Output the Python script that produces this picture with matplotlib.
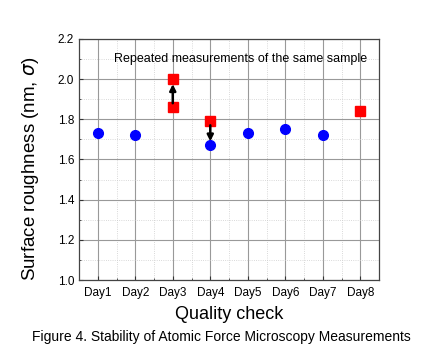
import matplotlib
matplotlib.use('Agg')
import matplotlib.pyplot as plt
from matplotlib.ticker import MultipleLocator

plt.rcParams['font.family'] = ['Liberation Sans', 'DejaVu Sans']

days = ['Day1', 'Day2', 'Day3', 'Day4', 'Day5', 'Day6', 'Day7', 'Day8']
blue_x = [1, 2, 4, 5, 6, 7]
blue_y = [1.73, 1.72, 1.67, 1.73, 1.75, 1.72]
red_x = [3, 3, 4, 8]
red_y = [2.00, 1.86, 1.79, 1.84]
# (x, from, to)
arrows = [(3, 1.88, 1.975), (4, 1.77, 1.69)]

fig = plt.figure(figsize=(4.42, 3.54), dpi=100)
ax = fig.add_axes([0.1787, 0.209, 0.679, 0.681])

ax.set_xlim(0.5, 8.5)
ax.set_ylim(1.0, 2.2)
ax.set_xticks(range(1, 9))
ax.set_xticklabels(days)
ax.xaxis.set_minor_locator(MultipleLocator(0.5))
ax.yaxis.set_major_locator(MultipleLocator(0.2))
ax.yaxis.set_minor_locator(MultipleLocator(0.1))
ax.grid(which='major', color='#999999', lw=0.8, ls='-')
ax.grid(which='minor', color='#cccccc', lw=0.6, ls=':')
ax.set_axisbelow(True)
for s in ax.spines.values():
    s.set_color('#444444'); s.set_linewidth(0.9)
ax.tick_params(which='both', direction='in', labelsize=8.5, colors='#333333',
               labelcolor='black')
ax.tick_params(which='major', length=3)
ax.tick_params(which='minor', length=1.5)
ax.tick_params(axis='x', pad=5)

ax.plot(blue_x, blue_y, 'o', color='blue', ms=7, ls='none', zorder=3)
ax.plot(red_x, red_y, 's', color='red', ms=6.5, ls='none', zorder=3)
for x, y0, y1 in arrows:
    ax.annotate('', xy=(x, y1), xytext=(x, y0),
                arrowprops=dict(arrowstyle='-|>', color='black', lw=1.8,
                                mutation_scale=9, shrinkA=0, shrinkB=0),
                zorder=4)

ax.text(4.8, 2.1, 'Repeated measurements of the same sample',
        ha='center', va='center', fontsize=9)
ax.set_ylabel(r'Surface roughness (nm, $\sigma$)', fontsize=13.5)
ax.yaxis.set_label_coords(-0.125, 0.46)
ax.set_xlabel('Quality check', fontsize=13, labelpad=5)
fig.text(0.5, 0.048, 'Figure 4. Stability of Atomic Force Microscopy Measurements',
         ha='center', va='center', fontsize=10)

fig.savefig('out.png', dpi=100)
